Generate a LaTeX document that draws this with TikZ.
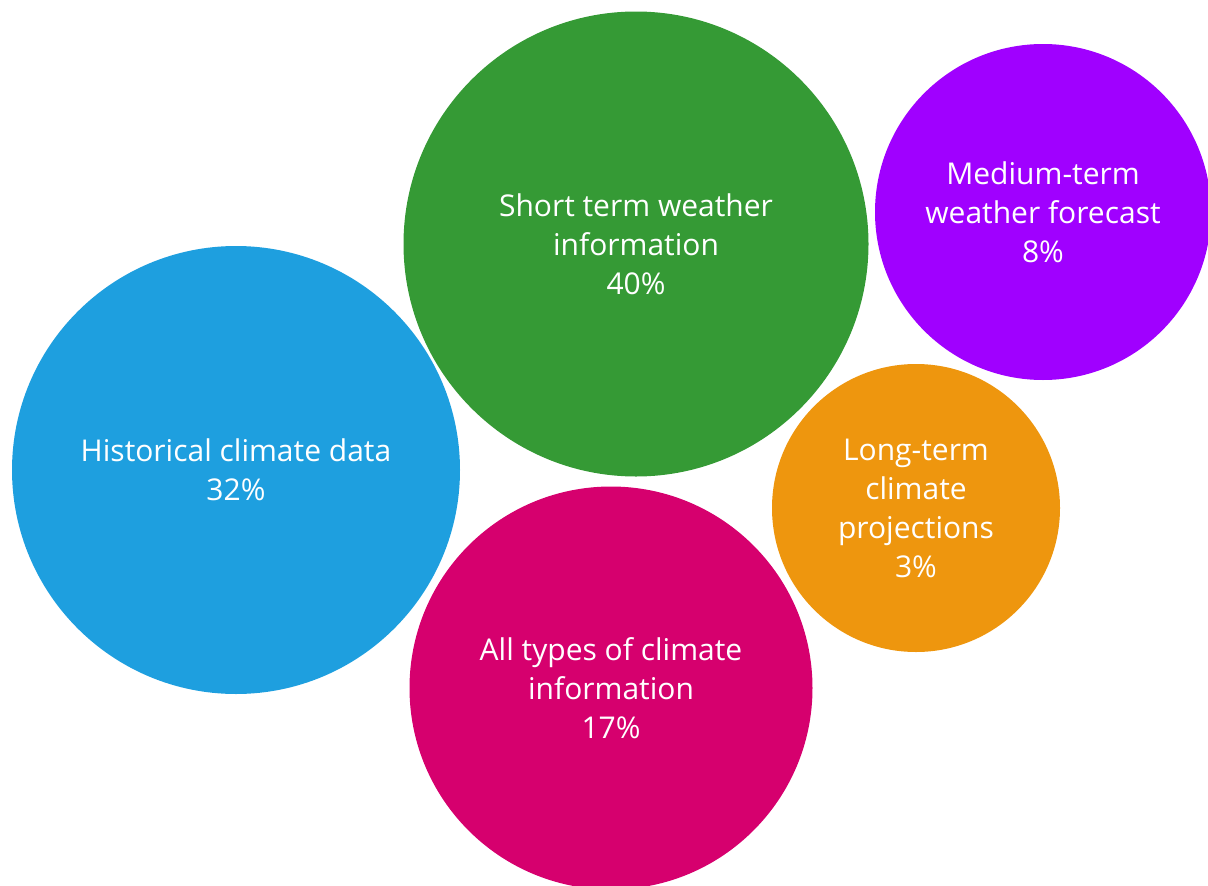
\documentclass[tikz,border=0pt]{standalone}
\usepackage{fontspec}
\setmainfont{Open Sans}
\definecolor{cblue}{HTML}{1E9FDF}
\definecolor{cgreen}{HTML}{359A35}
\definecolor{cpurple}{HTML}{A000FF}
\definecolor{corange}{HTML}{EE960E}
\definecolor{cmagenta}{HTML}{D6006E}
\begin{document}
\begin{tikzpicture}[x=1pt,y=-1pt,
  bubble/.style={circle, inner sep=0pt, text=white, align=center,
    font=\fontsize{30}{39}\selectfont}]
\useasboundingbox (0,0) rectangle (1208,886);
\clip (0,0) rectangle (1208,886);
\node[bubble, fill=cblue, minimum size=448pt] (hist) at (236,470) {Historical climate data\\32\%};
\node[bubble, fill=cgreen, minimum size=465pt] (short) at (636,244) {Short term weather\\information\\40\%};
\node[bubble, fill=cpurple, minimum size=336pt] (medium) at (1043,212) {Medium-term\\weather forecast\\8\%};
\node[bubble, fill=corange, minimum size=288pt] (long) at (916,508) {Long-term\\climate\\projections\\3\%};
\node[bubble, fill=cmagenta, minimum size=403pt] (all) at (611,688) {All types of climate\\information\\17\%};
\end{tikzpicture}
\end{document}
